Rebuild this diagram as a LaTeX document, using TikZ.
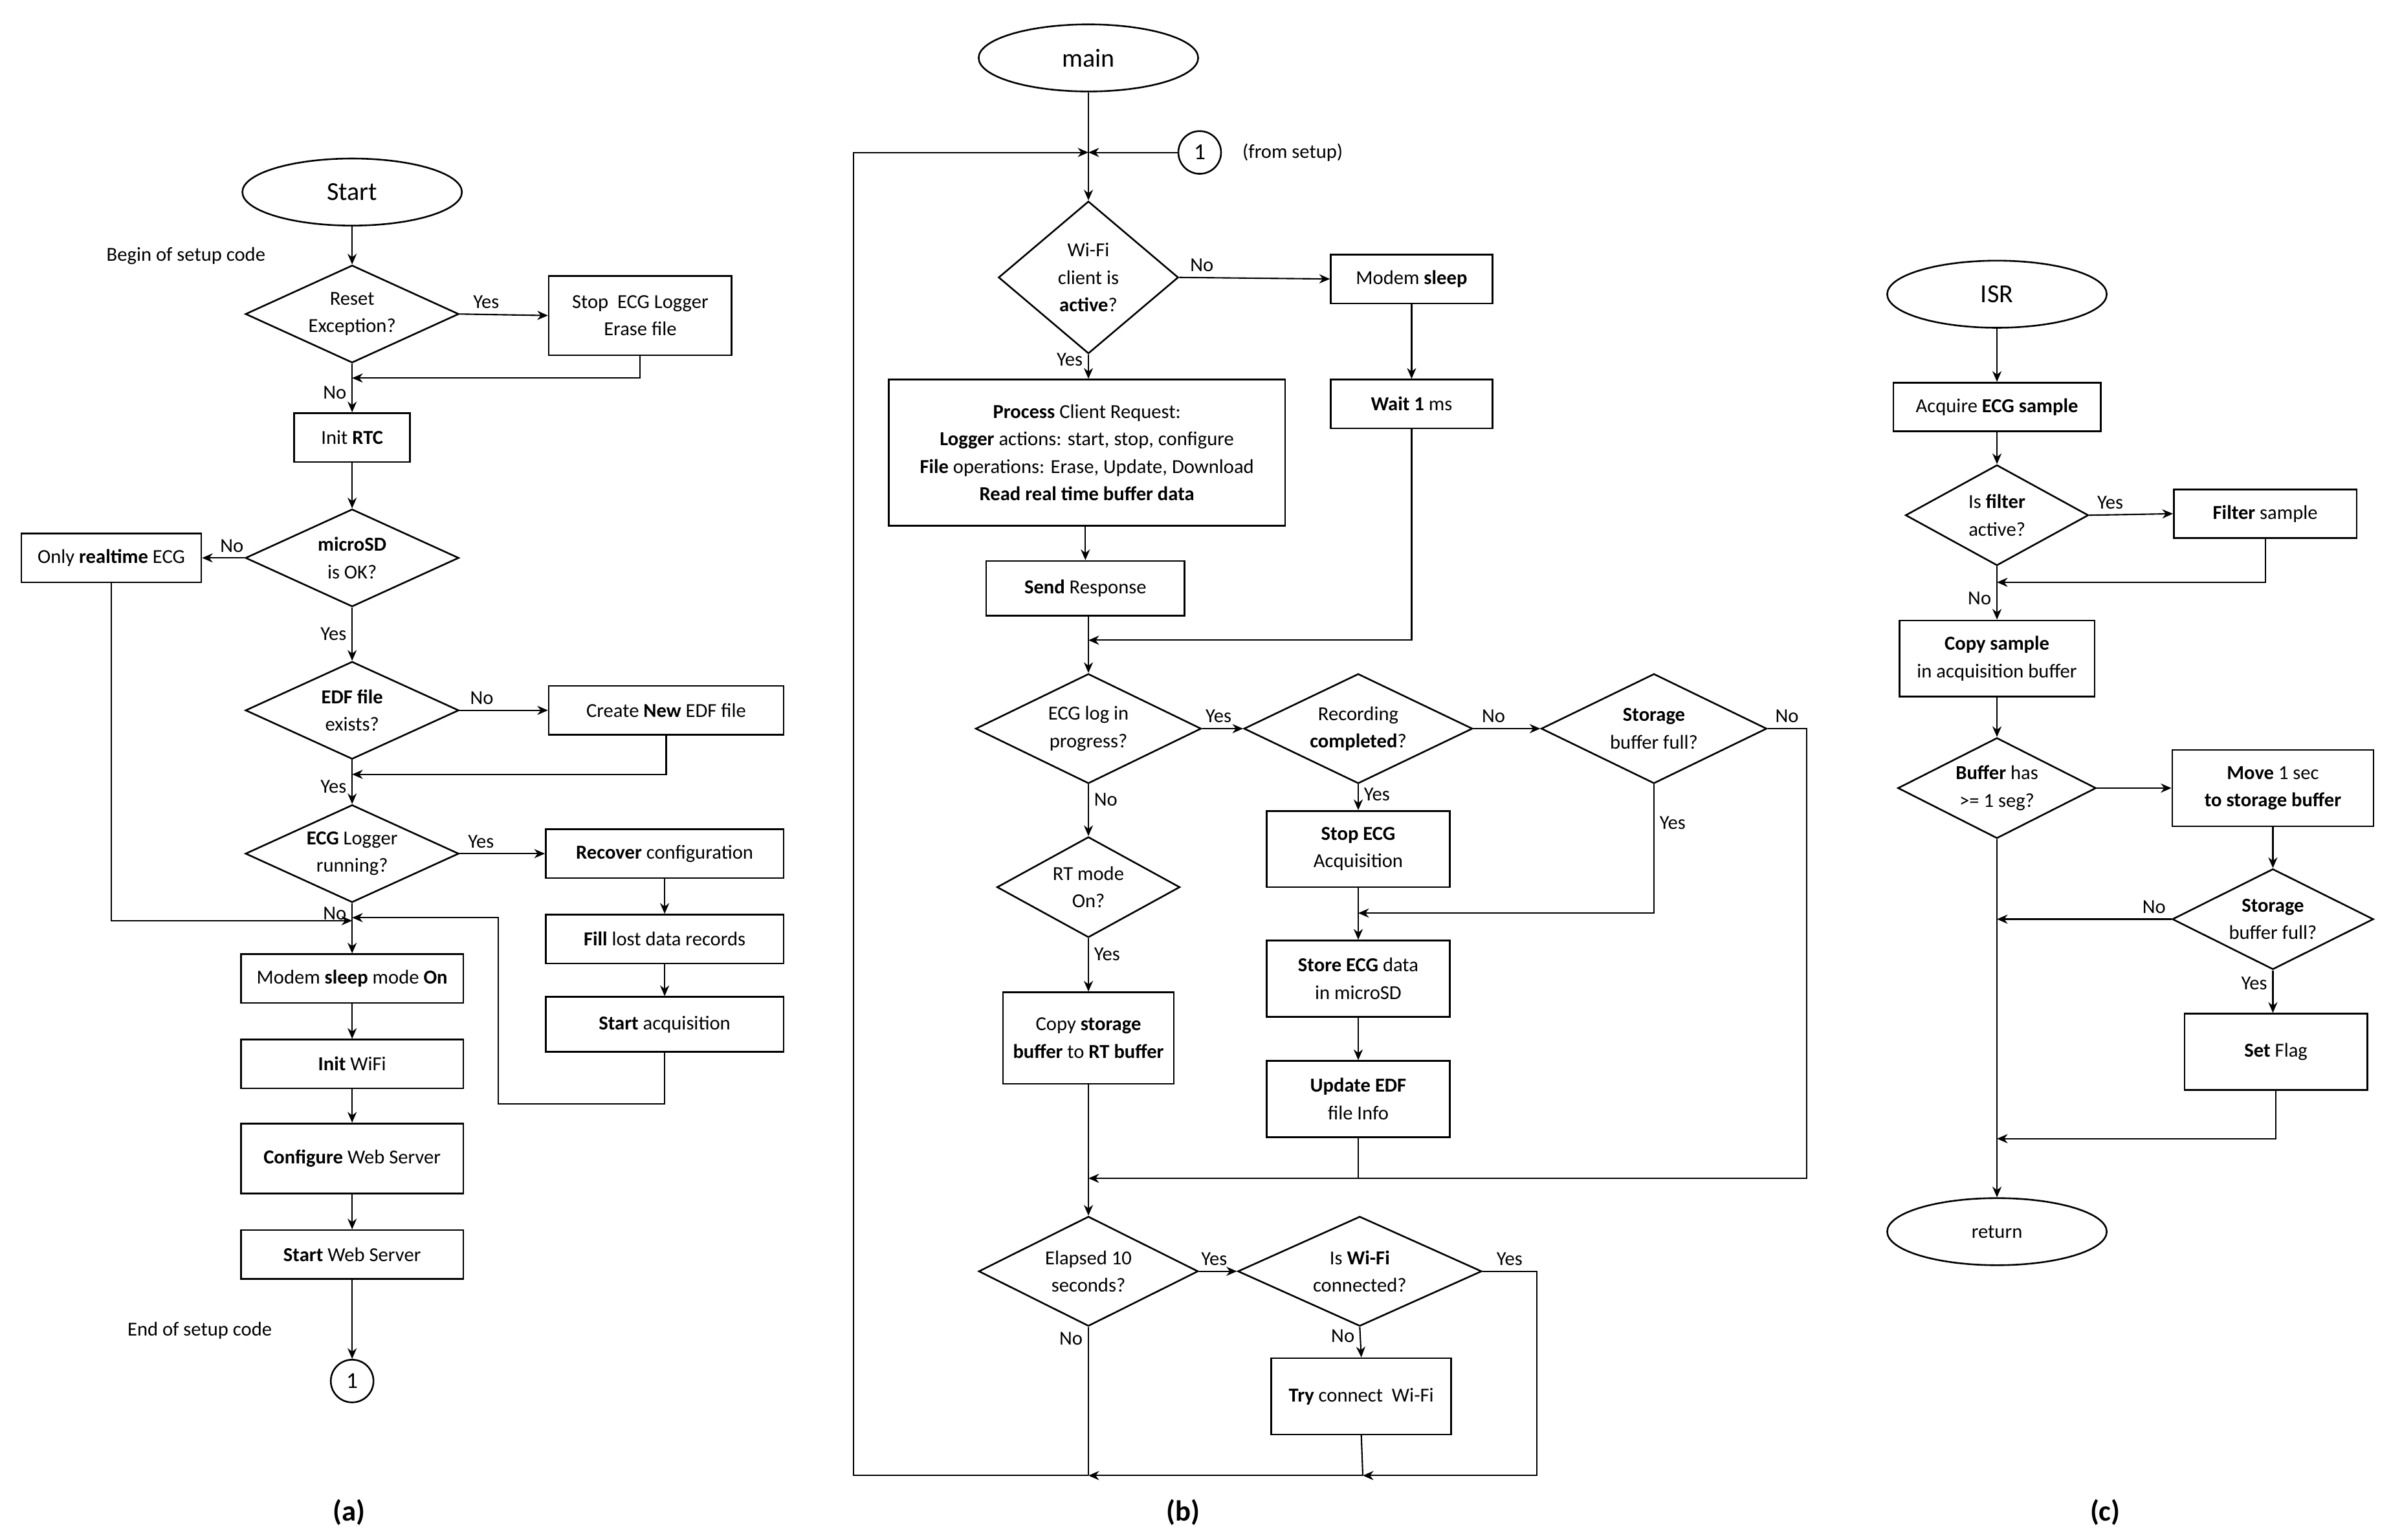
\documentclass[tikz,border=0pt]{standalone}
\usepackage{fontspec}
\setmainfont{Carlito}
\usetikzlibrary{shapes.geometric,arrows.meta}
\begin{document}
\begin{tikzpicture}[x=1pt,y=-1pt,
  every node/.style={font=\fontsize{13}{18}\selectfont},
  box/.style={draw,line width=1.1pt,inner sep=1pt,align=center,minimum height=32pt},
  dia/.style={draw,diamond,line width=1.1pt,inner sep=0pt,aspect=1},
  term/.style={draw,ellipse,line width=1.1pt,minimum width=144pt,minimum height=44pt,font=\fontsize{17}{20}\selectfont},
  circ/.style={draw,circle,line width=1.1pt,minimum size=28pt,inner sep=0pt,font=\fontsize{15}{18}\selectfont},
  lbl/.style={font=\fontsize{13}{16}\selectfont},
  capt/.style={font=\fontsize{19}{22}\selectfont\bfseries},
  ln/.style={line width=0.9pt},
  ar/.style={line width=0.9pt,-{Stealth[length=7pt,width=6pt]}}]
\useasboundingbox (0,0) rectangle (1568.5,1010);
% ---------------- (a)
\node[term] (start) at (231,126) {Start};
\node[lbl] (t1) at (122,168) {Begin of setup code};
\node[dia,minimum width=140pt,minimum height=64pt] (d1) at (231,206) {};
\node[align=center] (d1t) at (d1) {Reset\\Exception?};
\node[box,minimum width=120pt,minimum height=52pt] (b1) at (420,207) {Stop\ \ ECG Logger\\Erase file};
\node[box,minimum width=76pt] (rtc) at (231,287) {Init \textbf{RTC}};
\node[dia,minimum width=140pt,minimum height=64pt] (d2) at (231,366) {};
\node[align=center] (d2t) at (d2) {\textbf{microSD}\\is OK?};
\node[box,minimum width=118pt] (rt) at (73,366) {Only \textbf{realtime} ECG};
\node[dia,minimum width=140pt,minimum height=64pt] (d3) at (231,466) {};
\node[align=center] (d3t) at (d3) {\textbf{EDF file}\\exists?};
\node[box,minimum width=154pt] (new) at (437,466) {Create \textbf{New} EDF file};
\node[dia,minimum width=140pt,minimum height=64pt] (d4) at (231,560) {};
\node[align=center] (d4t) at (d4) {\textbf{ECG} Logger\\running?};
\node[box,minimum width=156pt] (rec) at (436,560) {\textbf{Recover} configuration};
\node[box,minimum width=156pt] (fill) at (436,616) {\textbf{Fill} lost data records};
\node[box,minimum width=156pt,minimum height=36pt] (sacq) at (436,672) {\textbf{Start} acquisition};
\node[box,minimum width=146pt] (msl) at (231,642) {Modem \textbf{sleep} mode \textbf{On}};
\node[box,minimum width=146pt] (wifi) at (231,698) {\textbf{Init} WiFi};
\node[box,minimum width=146pt,minimum height=46pt] (cfg) at (231,760) {\textbf{Configure} Web Server};
\node[box,minimum width=146pt] (sws) at (231,823) {\textbf{Start} Web Server};
\node[lbl] (t2) at (131,873) {End of setup code};
\node[circ] (c1) at (231,906) {1};
\node[capt] (ca) at (229,992) {(a)};
\coordinate (ja1) at (231,248);
\coordinate (ja2) at (231,508);
\coordinate (ja3) at (231,604);
\coordinate (ja4) at (231,602);
\draw[ar] (start) -- (d1);
\draw[ar] (d1.east) -- node[lbl,above,pos=0.3]{Yes} (b1.west);
\draw[ar] (b1.south) |- (ja1);
\draw[ar] (d1.south) -- node[lbl,left,pos=0.6]{No} (rtc);
\draw[ar] (rtc) -- (d2);
\draw[ar] (d2.west) -- node[lbl,above,pos=0.3]{No} (rt.east);
\draw[ar] (d2.south) -- node[lbl,left]{Yes} (d3.north);
\draw[ar] (d3.east) -- node[lbl,above,pos=0.25]{No} (new.west);
\draw[ar] (new.south) |- (ja2);
\draw[ar] (d3.south) -- node[lbl,left,pos=0.6]{Yes} (d4.north);
\draw[ar] (d4.east) -- node[lbl,above,pos=0.25]{Yes} (rec.west);
\draw[ar] (rec) -- (fill);
\draw[ar] (fill) -- (sacq);
\draw[ar] (sacq.south) |- (327,724) |- (ja4);
\draw[ar] (rt.south) |- (ja3);
\draw[ar] (d4.south) -- node[lbl,left,pos=0.2]{No} (msl.north);
\draw[ar] (msl) -- (wifi);
\draw[ar] (wifi) -- (cfg);
\draw[ar] (cfg) -- (sws);
\draw[ar] (sws) -- (c1);
% ---------------- (b)
\node[term] (main) at (714,38) {main};
\coordinate (jb0) at (714,100);
\node[circ] (c2) at (787,100) {1};
\node[lbl] (t3) at (848,100) {(from setup)};
\node[dia,minimum width=118pt,minimum height=100pt] (w1) at (714,182) {};
\node[align=center] (w1t) at (w1) {Wi-Fi\\client is\\\textbf{active}?};
\node[box,minimum width=106pt] (ms) at (926,183) {Modem \textbf{sleep}};
\node[box,minimum width=106pt] (w1ms) at (926,265) {\textbf{Wait 1} ms};
\node[box,minimum width=260pt,minimum height=96pt] (proc) at (713,297) {\textbf{Process} Client Request:\\\textbf{Logger} actions: start, stop, configure\\\textbf{File} operations: Erase, Update, Download\\\textbf{Read real time buffer data}};
\node[box,minimum width=130pt,minimum height=36pt] (resp) at (712,386) {\textbf{Send} Response};
\coordinate (jb1) at (714,420);
\node[dia,minimum width=148pt,minimum height=72pt] (e1) at (714,478) {};
\node[align=center] (e1t) at (e1) {ECG log in\\progress?};
\node[dia,minimum width=150pt,minimum height=72pt] (e2) at (891,478) {};
\node[align=center] (e2t) at (e2) {Recording\\\textbf{completed}?};
\node[dia,minimum width=148pt,minimum height=72pt] (e3) at (1085,478) {};
\node[align=center] (e3t) at (e3) {\textbf{Storage}\\buffer full?};
\node[box,minimum width=120pt,minimum height=50pt] (sto) at (891,557) {\textbf{Stop ECG}\\Acquisition};
\coordinate (jb2) at (891,599);
\node[box,minimum width=120pt,minimum height=50pt] (stm) at (891,642) {\textbf{Store ECG} data\\in microSD};
\node[box,minimum width=120pt,minimum height=50pt] (upd) at (891,721) {\textbf{Update EDF}\\file Info};
\node[dia,minimum width=120pt,minimum height=66pt] (rtm) at (714,582) {};
\node[align=center] (rtmt) at (rtm) {RT mode\\On?};
\node[box,minimum width=112pt,minimum height=60pt] (cpy) at (714,681) {Copy \textbf{storage}\\\textbf{buffer} to \textbf{RT buffer}};
\coordinate (jb3) at (714,773);
\node[dia,minimum width=144pt,minimum height=72pt] (el) at (714,834) {};
\node[align=center] (elt) at (el) {Elapsed 10\\seconds?};
\node[dia,minimum width=160pt,minimum height=72pt] (iw) at (892,834) {};
\node[align=center] (iwt) at (iw) {Is \textbf{Wi-Fi}\\connected?};
\node[box,minimum width=118pt,minimum height=50pt] (try) at (893,916) {\textbf{Try} connect\ \ Wi-Fi};
\coordinate (jb4) at (714,968);
\coordinate (jb5) at (894,968);
\node[capt] (cb) at (776,992) {(b)};
\draw[ln] (main) -- (jb0);
\draw[ar] (c2) -- (jb0);
\draw[ar] (jb0) -- (w1);
\draw[ar] (w1.east) -- node[lbl,above,pos=0.15]{No} (ms.west);
\draw[ar] (ms) -- (w1ms);
\draw[ar] (w1.south) -- node[lbl,left,pos=0.2]{Yes} (proc.north -| w1);
\draw[ar] (proc.south -| resp) -- (resp);
\draw[ar] (w1ms.south) |- (jb1);
\draw[ar] (resp.south -| jb1) -- (e1.north);
\draw[ar] (e1.east) -- node[lbl,above,pos=0.4]{Yes} (e2.west);
\draw[ar] (e2.east) -- node[lbl,above,pos=0.3]{No} (e3.west);
\draw[ar] (e2.south) -- node[lbl,right,pos=0.4]{Yes} (sto.north);
\draw[ar] (e3.south) -- node[lbl,right,pos=0.3]{Yes} (1085,599) -- (jb2);
\draw[ar] (sto) -- (stm);
\draw[ar] (stm) -- (upd);
\draw[ln] (upd.south) -- (891,773);
\draw[ar] (e3.east) -- node[lbl,above,pos=0.5]{No} (1185,478) |- (jb3);
\draw[ar] (e1.south) -- node[lbl,right,pos=0.3]{No} (rtm.north);
\draw[ar] (rtm.south) -- node[lbl,right,pos=0.3]{Yes} (cpy.north);
\draw[ln] (cpy.south) -- (jb3);
\draw[ar] (jb3) -- (el.north);
\draw[ar] (el.east) -- node[lbl,above,pos=0.4]{Yes} (iw.west);
\draw[ar] (iw.south) -- node[lbl,left,pos=0.3]{No} (try.north);
\draw[ar] (iw.east) -- node[lbl,above,pos=0.5]{Yes} (1008,834) |- (jb5);
\draw[ln] (try.south) -- (jb5);
\draw[ar] (jb5) -- (jb4);
\draw[ln] (el.south) -- node[lbl,left,pos=0.08]{No} (jb4);
\draw[ar] (jb4) -- (560,968) -- (560,100) -- (jb0);
% ---------------- (c)
\node[term] (isr) at (1310,193) {ISR};
\node[box,minimum width=136pt] (acq) at (1310,267) {Acquire \textbf{ECG sample}};
\node[dia,minimum width=120pt,minimum height=66pt] (f1) at (1310,338) {};
\node[align=center] (f1t) at (f1) {Is \textbf{filter}\\active?};
\node[box,minimum width=120pt] (fs) at (1486,337) {\textbf{Filter} sample};
\coordinate (jc1) at (1310,382);
\node[box,minimum width=128pt,minimum height=50pt] (cs) at (1310,432) {\textbf{Copy sample}\\in acquisition buffer};
\node[dia,minimum width=130pt,minimum height=66pt] (bh) at (1310,517) {};
\node[align=center] (bht) at (bh) {\textbf{Buffer} has\\>= 1 seg?};
\node[box,minimum width=132pt,minimum height=50pt] (mv) at (1491,517) {\textbf{Move} 1 sec\\\textbf{to storage buffer}};
\node[dia,minimum width=132pt,minimum height=66pt] (sf) at (1491,603) {};
\node[align=center] (sft) at (sf) {\textbf{Storage}\\buffer full?};
\node[box,minimum width=120pt,minimum height=50pt] (sfl) at (1493,690) {\textbf{Set} Flag};
\coordinate (jc2) at (1310,603);
\coordinate (jc3) at (1310,747);
\node[term,font=\fontsize{13}{16}\selectfont] (ret) at (1310,808) {return};
\node[capt] (cc) at (1381,992) {(c)};
\draw[ar] (isr) -- (acq);
\draw[ar] (acq) -- (f1);
\draw[ar] (f1.east) -- node[lbl,above,pos=0.25]{Yes} (fs.west);
\draw[ar] (fs.south) |- (jc1);
\draw[ar] (f1.south) -- node[lbl,left,pos=0.6]{No} (cs.north);
\draw[ar] (cs) -- (bh);
\draw[ar] (bh.east) -- (mv.west);
\draw[ar] (mv) -- (sf);
\draw[ar] (sf.west) -- node[lbl,above,pos=0.1]{No} (jc2);
\draw[ar] (sf.south) -- node[lbl,left,pos=0.3]{Yes} (sfl.north -| sf);
\draw[ar] (sfl.south) |- (jc3);
\draw[ar] (bh.south) -- (ret.north);
\end{tikzpicture}
\end{document}
